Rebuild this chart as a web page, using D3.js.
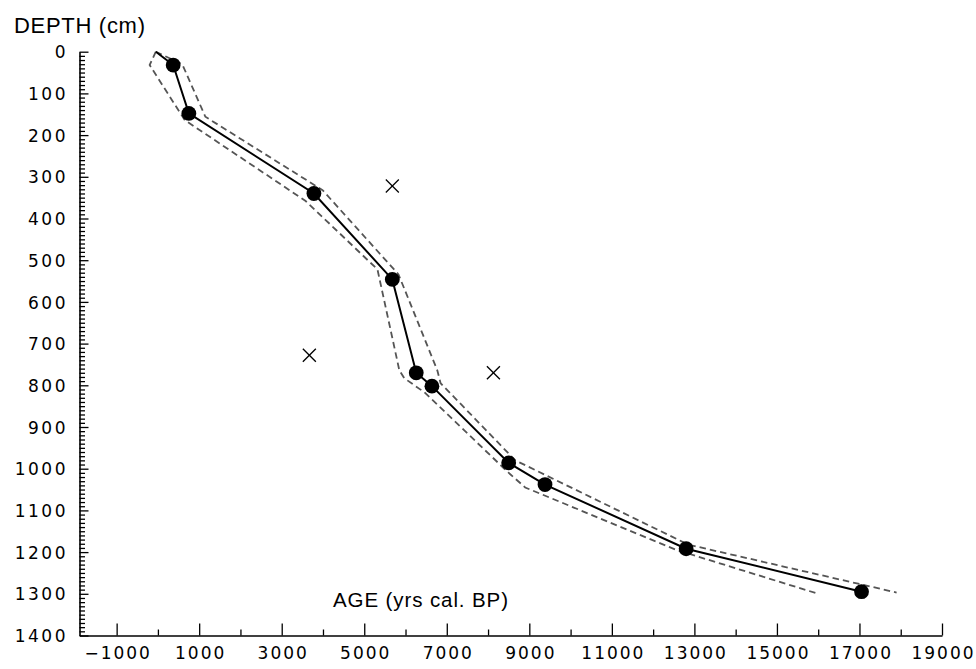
<!DOCTYPE html>
<html>
<head>
<meta charset="utf-8">
<script src="https://cdn.jsdelivr.net/npm/d3@7"></script>
<style>
  html, body { margin: 0; padding: 0; background: #fff; }
  svg { display: block; }
  .tick text { font-family: "DejaVu Sans", sans-serif; }
</style>
</head>
<body>
<svg id="chart" width="976" height="669"></svg>
<script>
// ---- data ----
// dated samples used in the model (filled circles)
const sampleAges   = [370, 750, 3780, 5680, 6260, 6640, 8500, 9380, 12800, 17050];
const sampleDepths = [32, 148, 340, 546, 770, 802, 986, 1038, 1192, 1295];

// rejected dates (crosses)
const outlierAges   = [5680, 3670, 8130];
const outlierDepths = [322, 728, 770];

// age-depth model (solid line), starting at the surface
const modelAges   = [-50, 370, 750, 3780, 5680, 6260, 6640, 8500, 9380, 12800, 17050];
const modelDepths = [0, 32, 148, 340, 546, 770, 802, 986, 1038, 1192, 1295];

// lower (younger) confidence envelope (dashed)
const lowerAges   = [-50, -200, 650, 3580, 5320, 5850, 5970, 6460, 8490, 8900, 12540, 16000];
const lowerDepths = [0, 32, 164, 358, 522, 764, 783, 817, 1009, 1045, 1194, 1300];

// upper (older) confidence envelope (dashed)
const upperAges   = [-50, 590, 1150, 3990, 5830, 6770, 6850, 8660, 12850, 17900];
const upperDepths = [0, 30, 156, 332, 534, 764, 795, 980, 1182, 1297];

// axis ticks
const ageMajorTicks   = [-1000, 1000, 3000, 5000, 7000, 9000, 11000, 13000, 15000, 17000, 19000];
const ageMinorTicks   = [0, 2000, 4000, 6000, 8000, 10000, 12000, 14000, 16000, 18000];
const depthMajorTicks = [0, 100, 200, 300, 400, 500, 600, 700, 800, 900, 1000, 1100, 1200, 1300, 1400];
const depthMinorTicks = d3.range(0, 1401, 10).filter(d => d % 100 !== 0);

const xTitle = "AGE (yrs cal. BP)";
const yTitle = "DEPTH (cm)";

// ---- layout ----
const svg = d3.select("#chart");
const x = d3.scaleLinear().domain([-1900, 19000]).range([79.5, 942]);
const y = d3.scaleLinear().domain([0, 1400]).range([51.7, 635.5]);

const LSY = 2.5; // letter spacing of y tick labels
const LSX = 2;   // letter spacing of x tick labels

// y axis: major ticks with labels
const yMajor = d3.axisLeft(y).tickValues(depthMajorTicks).tickSizeInner(-9).tickSizeOuter(0)
  .tickPadding(14).tickFormat(d3.format("d"));
const gy = svg.append("g").attr("transform", `translate(${x(-1900)},0)`).call(yMajor);
const yMinor = d3.axisLeft(y).tickValues(depthMinorTicks).tickSizeInner(-5.5).tickSizeOuter(0).tickFormat("");
const gy2 = svg.append("g").attr("transform", `translate(${x(-1900)},0)`).call(yMinor);
gy2.select(".domain").remove();

// x axis
const xMajor = d3.axisBottom(x).tickValues(ageMajorTicks).tickSizeInner(-12).tickSizeOuter(0)
  .tickPadding(11).tickFormat(d3.format("d"));
const gx = svg.append("g").attr("transform", `translate(0,${y(1400)})`).call(xMajor);
const xMinor = d3.axisBottom(x).tickValues(ageMinorTicks).tickSizeInner(-6).tickSizeOuter(0).tickFormat("");
const gx2 = svg.append("g").attr("transform", `translate(0,${y(1400)})`).call(xMinor);
gx2.select(".domain").remove();

[gx, gy, gx2, gy2].forEach(g => {
  g.selectAll("path.domain").attr("stroke", "#000").attr("stroke-width", 1.6);
  g.selectAll(".tick line").attr("stroke", "#000").attr("stroke-width", 1.3);
});
gy.selectAll(".tick text").attr("font-size", 17).attr("letter-spacing", LSY + "px")
  .attr("fill", "#000").attr("dx", LSY).attr("dy", "0.36em");
gx.selectAll(".tick text").attr("font-size", 17).attr("letter-spacing", LSX + "px")
  .attr("fill", "#000").attr("dx", LSX / 2);

// titles
svg.append("text").attr("x", 14).attr("y", 32.5)
  .attr("font-family", "Liberation Sans, Arial, sans-serif").attr("font-size", 22)
  .attr("letter-spacing", "0.7px").attr("fill", "#000").text(yTitle);
svg.append("text").attr("x", 333).attr("y", 606.5)
  .attr("font-family", "Liberation Sans, Arial, sans-serif").attr("font-size", 20.5)
  .attr("letter-spacing", "0.9px").attr("fill", "#000").text(xTitle);

// ---- marks ----
const line = d3.line().x(d => x(d[0])).y(d => y(d[1]));
const zip = (a, b) => a.map((v, i) => [v, b[i]]);

svg.append("path").datum(zip(lowerAges, lowerDepths))
  .attr("d", line).attr("fill", "none").attr("stroke", "#555")
  .attr("stroke-width", 1.8).attr("stroke-dasharray", "6.5,4");
svg.append("path").datum(zip(upperAges, upperDepths))
  .attr("d", line).attr("fill", "none").attr("stroke", "#555")
  .attr("stroke-width", 1.8).attr("stroke-dasharray", "6.5,4");

svg.append("path").datum(zip(modelAges, modelDepths))
  .attr("d", line).attr("fill", "none").attr("stroke", "#000")
  .attr("stroke-width", 2);

svg.append("g").selectAll("circle").data(zip(sampleAges, sampleDepths)).join("circle")
  .attr("cx", d => x(d[0])).attr("cy", d => y(d[1])).attr("r", 7.4).attr("fill", "#000");

// crosses drawn as two strokes
svg.append("g").selectAll("g").data(zip(outlierAges, outlierDepths)).join("g")
  .attr("transform", d => `translate(${x(d[0])},${y(d[1])})`)
  .each(function() {
    const g = d3.select(this);
    g.append("line").attr("x1", -6.5).attr("y1", -6.5).attr("x2", 6.5).attr("y2", 6.5);
    g.append("line").attr("x1", -6.5).attr("y1", 6.5).attr("x2", 6.5).attr("y2", -6.5);
    g.selectAll("line").attr("stroke", "#000").attr("stroke-width", 1.3);
  });
</script>
</body>
</html>
